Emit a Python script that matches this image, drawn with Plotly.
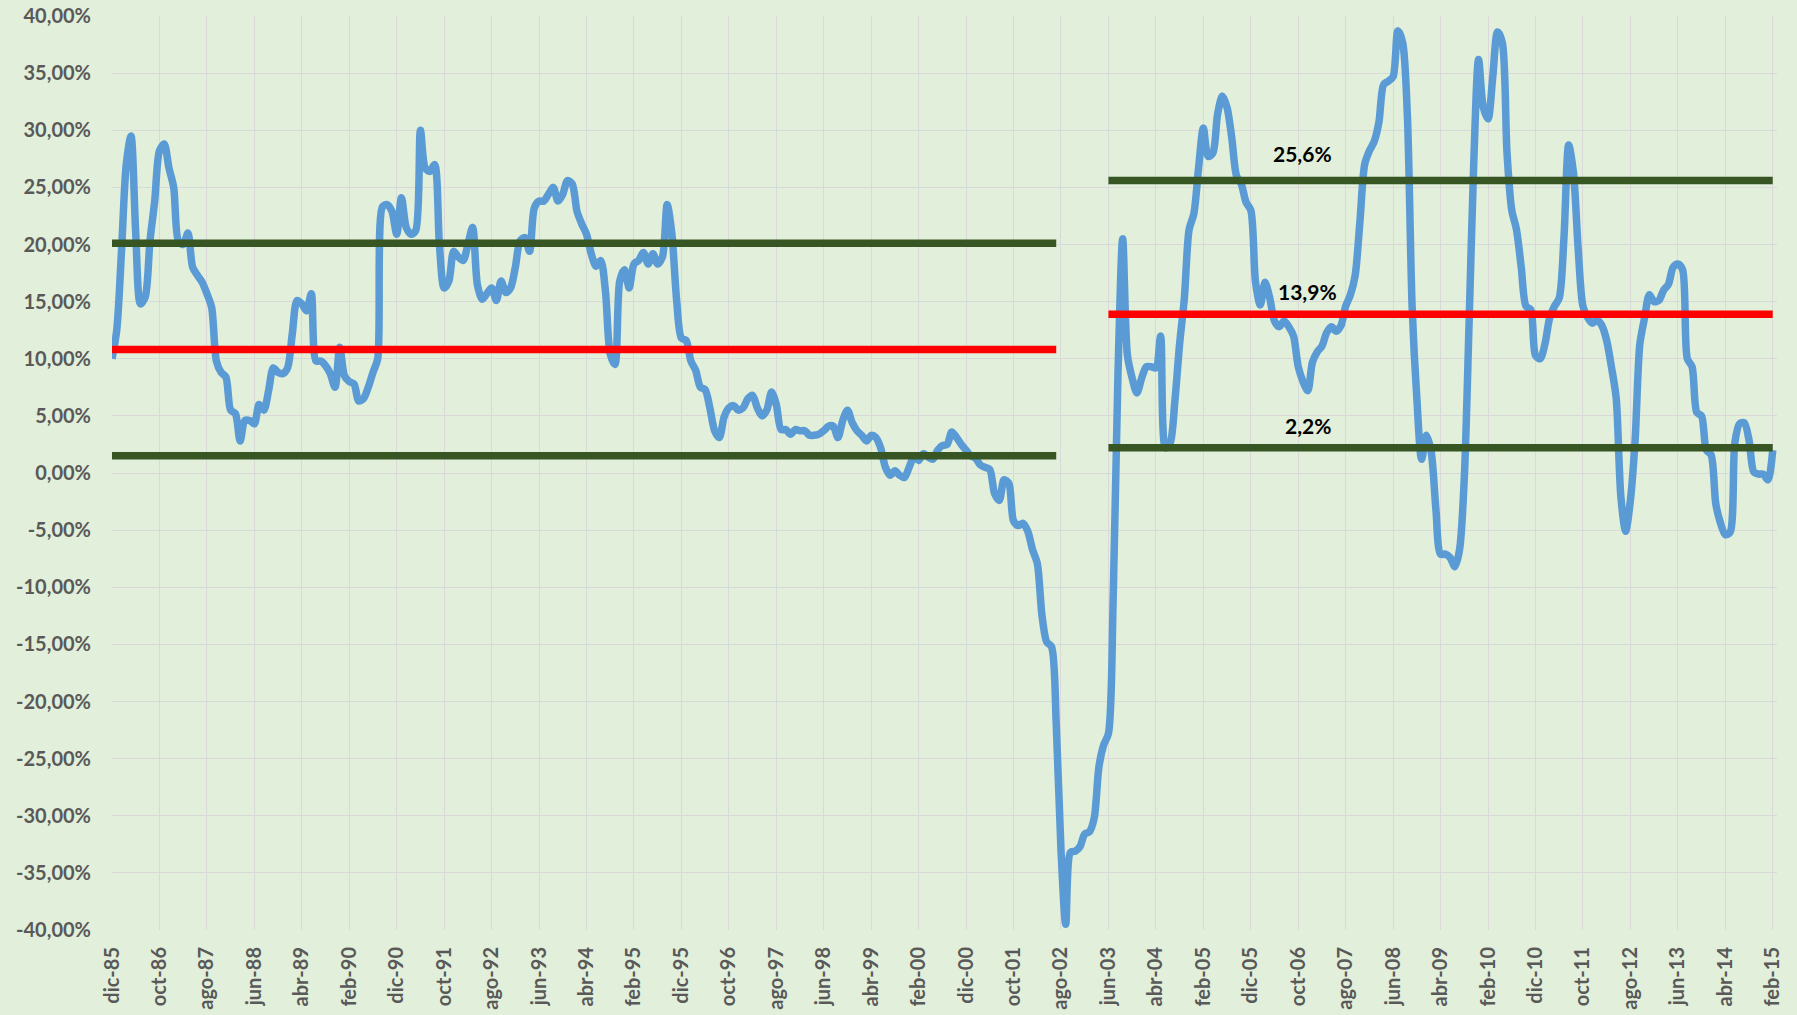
import plotly.graph_objects as go

# ---- categories (monthly, dic-85 .. feb-15) ----
MONTHS_ES = ["ene", "feb", "mar", "abr", "may", "jun", "jul", "ago", "sep", "oct", "nov", "dic"]
START_YEAR, START_MONTH, N_MONTHS = 1985, 12, 351
categories = []
for k in range(N_MONTHS):
    mi = (START_MONTH - 1 + k) % 12
    yr = START_YEAR + (START_MONTH - 1 + k) // 12
    categories.append(f"{MONTHS_ES[mi]}-{yr % 100:02d}")

# ---- series values (%), one per month ----
values = [
    10.0, 12.5, 19.4, 27.0, 29.5, 21.0, 14.8, 15.4, 20.3, 23.8,   # 0
    28.2, 28.8, 26.7, 25.0, 20.3, 20.0, 21.0, 18.0, 17.3, 16.7,   # 10
    15.7, 14.5, 9.8, 8.8, 8.4, 5.5, 5.2, 2.8, 4.6, 4.6,           # 20
    4.3, 6.0, 5.5, 7.2, 9.2, 8.8, 8.7, 9.2, 12.2, 15.1,           # 30
    14.8, 14.2, 15.7, 9.8, 9.8, 9.4, 8.7, 7.5, 11.0, 8.5,         # 40
    8.0, 7.8, 6.3, 6.5, 7.5, 8.8, 10.0, 23.3, 23.5, 22.9,         # 50
    20.9, 24.1, 21.5, 20.9, 21.2, 30.0, 26.7, 26.4, 27.0, 20.0,   # 60
    16.2, 16.8, 19.4, 18.9, 18.6, 20.0, 21.5, 16.5, 15.2, 15.7,   # 70
    16.2, 15.1, 16.8, 15.8, 16.2, 18.0, 20.3, 20.6, 19.4, 23.2,   # 80
    23.8, 23.8, 24.4, 25.0, 23.8, 24.4, 25.6, 25.3, 22.9, 21.8,   # 90
    20.9, 19.2, 18.1, 18.6, 15.9, 10.4, 9.5, 16.8, 17.8, 16.2,    # 100
    18.3, 18.6, 19.3, 18.3, 19.2, 18.3, 18.9, 23.5, 20.9, 15.1,   # 110
    11.8, 11.6, 9.8, 9.0, 7.5, 7.3, 5.7, 3.7, 3.1, 4.9,           # 120
    5.7, 5.9, 5.5, 5.7, 6.5, 6.8, 5.7, 5.0, 5.5, 7.1,             # 130
    6.0, 3.8, 3.8, 3.4, 3.8, 3.7, 3.7, 3.3, 3.3, 3.4,             # 140
    3.7, 4.1, 4.1, 3.1, 4.6, 5.5, 4.4, 3.7, 3.3, 2.8,             # 150
    3.3, 3.1, 2.2, 0.5, -0.2, 0.2, -0.2, -0.4, 0.5, 1.4,          # 160
    1.1, 1.7, 1.4, 1.2, 2.0, 2.4, 2.5, 3.6, 3.1, 2.5,             # 170
    2.0, 1.5, 1.3, 0.7, 0.5, 0.3, -1.8, -2.4, -0.6, -0.9,         # 180
    -4.2, -4.6, -4.4, -5.1, -6.7, -7.9, -12.5, -14.8, -15.2, -22.0,  # 190
    -33.0, -39.5, -33.2, -33.1, -32.7, -31.6, -31.4, -30.2, -25.7, -23.8,  # 200
    -22.8, -11.0, 8.5, 20.5, 10.3, 8.3, 7.0, 8.3, 9.3, 9.3,       # 210
    9.2, 12.0, 2.2, 2.6, 6.3, 11.3, 15.3, 21.3, 22.7, 26.7,       # 220
    30.2, 27.7, 28.0, 31.4, 33.0, 32.0, 29.3, 26.0, 25.3, 23.7,   # 230
    23.0, 16.7, 14.7, 16.7, 15.3, 13.3, 12.8, 13.3, 12.8, 12.0,   # 240
    9.3, 8.0, 7.2, 9.7, 10.6, 11.1, 12.3, 12.8, 12.4, 12.9,       # 250
    14.6, 15.6, 17.3, 22.0, 27.0, 28.2, 29.0, 30.7, 34.0, 34.3,   # 260
    34.7, 38.7, 37.7, 31.3, 14.6, 6.5, 1.2, 3.3, 1.9, -3.1,       # 270
    -7.1, -7.1, -7.4, -8.2, -6.7, -0.4, 13.0, 27.3, 36.2, 32.0,   # 280
    31.0, 34.7, 38.6, 37.7, 28.0, 23.0, 21.3, 18.0, 14.6, 14.3,   # 290
    10.3, 10.0, 11.3, 13.6, 14.6, 15.3, 20.6, 28.7, 26.3, 19.6,   # 300
    14.6, 13.6, 13.1, 13.4, 12.9, 11.6, 9.3, 6.6, -2.1, -5.1,     # 310
    -2.4, 2.9, 11.3, 13.6, 15.6, 15.0, 15.1, 16.0, 16.5, 18.0,    # 320
    18.3, 17.8, 10.0, 9.3, 5.3, 5.0, 2.0, 1.6, -2.7, -4.4,        # 330
    -5.4, -5.2, 2.6, 4.3, 4.4, 2.9, 0.1, -0.1, -0.1, -0.6,        # 340
    2.0,                                                          # 350
]
assert len(values) == N_MONTHS

# ---- reference levels per period ----
period1_range = ["dic-85", "jul-02"]
period1_levels = [20.1, 10.8, 1.5]          # upper, mean, lower
period2_range = ["jun-03", "feb-15"]
period2_levels = [25.6, 13.9, 2.2]
period2_labels = ["25,6%", "13,9%", "2,2%"]
label_anchor = ["nov-06", "dic-06", "dic-06"]

# ---- tick labels ----
x_tick_labels = categories[::10]
y_tick_values = [40, 35, 30, 25, 20, 15, 10, 5, 0, -5, -10, -15, -20, -25, -30, -35, -40]
y_tick_text = ["40,00%", "35,00%", "30,00%", "25,00%", "20,00%", "15,00%", "10,00%", "5,00%",
               "0,00%", "-5,00%", "-10,00%", "-15,00%", "-20,00%", "-25,00%", "-30,00%",
               "-35,00%", "-40,00%"]

BLUE = "#5B9BD5"
GREEN = "#375623"
RED = "#FF0000"
BG = "#E2EFDA"
GRID = "#D9D9D9"
TXT = "#595959"
FONT = "Lato"

fig = go.Figure()
fig.add_trace(go.Scatter(
    x=categories, y=values, mode="lines",
    line=dict(color=BLUE, width=7.5, shape="spline", smoothing=0.8),
    hoverinfo="skip", showlegend=False,
))

level_colors = [GREEN, RED, GREEN]
for rng, levels in [(period1_range, period1_levels), (period2_range, period2_levels)]:
    for lv, col in zip(levels, level_colors):
        fig.add_trace(go.Scatter(
            x=rng, y=[lv, lv], mode="lines",
            line=dict(color=col, width=7.5),
            hoverinfo="skip", showlegend=False,
        ))

yshifts = [27, 23, 22]
for lv, txt, anc, ys in zip(period2_levels, period2_labels, label_anchor, yshifts):
    fig.add_annotation(
        x=anc, y=lv, text=f"<b>{txt}</b>", showarrow=False,
        yshift=ys, xanchor="center", yanchor="middle",
        font=dict(family=FONT, size=21, color="#000000"),
    )

fig.update_xaxes(
    type="category", categoryorder="array", categoryarray=categories,
    range=[0, 350.9], tickmode="array", tickvals=x_tick_labels, ticktext=x_tick_labels,
    tickangle=-90, showgrid=True, gridcolor=GRID, gridwidth=1,
    showline=False, zeroline=False, ticks="", automargin=False,
    tickfont=dict(family=FONT, size=20, color=TXT, weight="bold"),
    ticklabelstandoff=12,
)
fig.update_yaxes(
    range=[-40, 40], tickmode="array", tickvals=y_tick_values, ticktext=y_tick_text,
    showgrid=True, gridcolor=GRID, gridwidth=1, zeroline=False, showline=False, ticks="",
    automargin=False,
    tickfont=dict(family=FONT, size=20, color=TXT, weight="bold"),
    ticklabelstandoff=20,
)
fig.update_layout(
    width=1797, height=1015,
    margin=dict(l=112, r=20, t=16, b=85, autoexpand=False),
    paper_bgcolor=BG, plot_bgcolor=BG,
    showlegend=False,
)

fig.write_html("out.html", config={"displayModeBar": False},
               post_script="document.body.style.margin='0';")
